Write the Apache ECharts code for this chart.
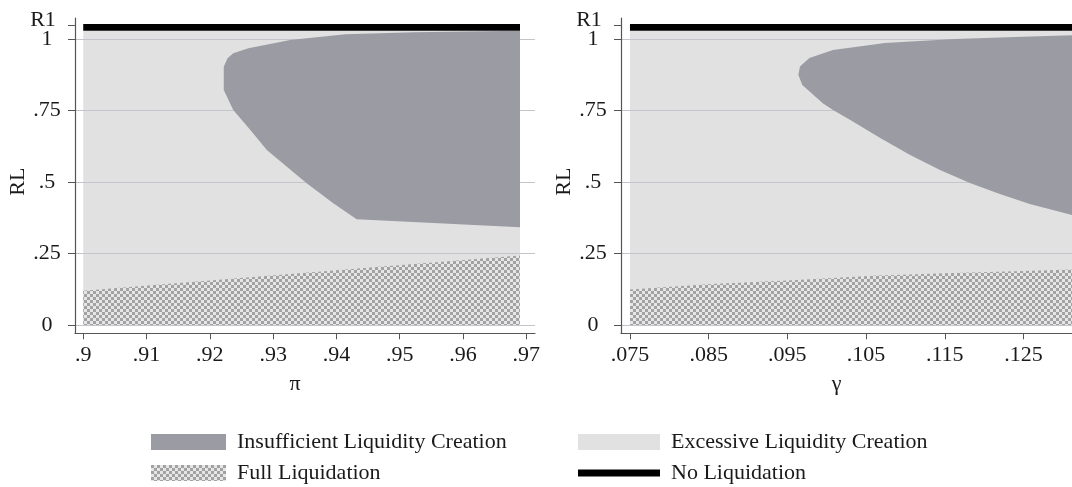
<!DOCTYPE html>
<html>
<head>
<meta charset="utf-8">
<script src="https://cdn.jsdelivr.net/npm/echarts@6/dist/echarts.min.js"></script>
<style>html,body{margin:0;padding:0;background:#fff}#c{width:1072px;height:487px}</style>
</head>
<body>
<div id="c"></div>
<script>
// ---------- data ----------
const yTickValues = [0, 0.25, 0.5, 0.75, 1];
const yTickLabels = ['0', '.25', '.5', '.75', '1'];
const r1Value = 1.049;
const r1Label = 'R1';
const piTickValues = [0.90, 0.91, 0.92, 0.93, 0.94, 0.95, 0.96, 0.97];
const piTickLabels = ['.9', '.91', '.92', '.93', '.94', '.95', '.96', '.97'];
const gammaTickValues = [0.075, 0.085, 0.095, 0.105, 0.115, 0.125, 0.135];
const gammaTickLabels = ['.075', '.085', '.095', '.105', '.115', '.125', '.135'];

const piRange = [0.9, 0.969];
const gammaRange = [0.075, 0.1312];
const excessTop = 1.030;
const noLiqBand = [1.030, 1.0535];

const piInsuffUpper = [[0.9222, 0.8225], [0.9222, 0.904], [0.9228, 0.9335], [0.9237, 0.951], [0.9261, 0.9685], [0.9327, 0.9975], [0.9414, 1.0175], [0.9523, 1.0245], [0.969, 1.030]];
const piInsuffLower = [[0.9222, 0.8225], [0.9237, 0.7525], [0.9264, 0.6825], [0.9290, 0.6125], [0.9353, 0.496], [0.9395, 0.426], [0.9432, 0.370], [0.969, 0.342]];
const piFullTop = [[0.9, 0.12], [0.94, 0.192], [0.969, 0.243]];

const gammaInsuffUpper = [[0.0964, 0.875], [0.0966, 0.905], [0.0978, 0.9345], [0.1008, 0.9625], [0.1074, 0.987], [0.1162, 1.001], [0.1249, 1.009], [0.1312, 1.014]];
const gammaInsuffLower = [[0.0964, 0.875], [0.0969, 0.84], [0.0995, 0.776], [0.1008, 0.7525], [0.1030, 0.7175], [0.1068, 0.6545], [0.1106, 0.595], [0.1144, 0.5425], [0.1182, 0.497], [0.1220, 0.4585], [0.1258, 0.4235], [0.1312, 0.385]];
const gammaFullTop = [[0.075, 0.124], [0.0854, 0.1435], [0.0956, 0.157], [0.1059, 0.1725], [0.1161, 0.182], [0.1262, 0.190], [0.1312, 0.194]];

const names = ['Insufficient Liquidity Creation', 'Excessive Liquidity Creation', 'Full Liquidation', 'No Liquidation'];

// ---------- styles ----------
const FONT = 'Liberation Serif';
const FS = 22;
const TXT = '#1a1a1a';
const C_DARK = '#9b9ca3';
const C_LIGHT = '#e1e1e2';
const C_BLACK = '#000000';
const Y_MIN = -0.029, Y_MAX = 1.0745;

const pc = document.createElement('canvas');
pc.width = 6; pc.height = 6;
const g = pc.getContext('2d');
g.fillStyle = '#e6e6e6'; g.fillRect(0, 0, 6, 6);
g.fillStyle = '#a2a2a2'; g.fillRect(0, 0, 3, 3); g.fillRect(3, 3, 3, 3);
const C_PATTERN = { image: pc, repeat: 'repeat' };

// ---------- polygons ----------
function rect(x0, x1, y0, y1) { return [[x0, y0], [x0, y1], [x1, y1], [x1, y0]]; }
function region(upper, lower) { return upper.concat(lower.slice().reverse()); }
function underCurve(top) { return [[top[0][0], 0]].concat(top, [[top[top.length - 1][0], 0]]); }

function polySeries(name, idx, pts, color, z) {
  return {
    type: 'custom', name: name, xAxisIndex: idx, yAxisIndex: idx, z: z,
    silent: true, animation: false,
    itemStyle: { color: color },
    data: [pts[0]],
    renderItem: function (params, api) {
      return {
        type: 'polygon',
        shape: { points: pts.map(function (p) { return api.coord(p); }) },
        style: { fill: color }
      };
    }
  };
}

function panelSeries(idx, range, upper, lower, fullTop) {
  return [
    polySeries(names[1], idx, rect(range[0], range[1], 0, excessTop), C_LIGHT, 1),
    polySeries(names[0], idx, region(upper, lower), C_DARK, 3),
    polySeries(names[2], idx, underCurve(fullTop), C_PATTERN, 3),
    polySeries(names[3], idx, rect(range[0], range[1], noLiqBand[0], noLiqBand[1]), C_BLACK, 3)
  ];
}

function yAxisOpt(idx) {
  return {
    type: 'value', gridIndex: idx, min: Y_MIN, max: Y_MAX, z: 2, position: 'left',
    name: 'RL', nameLocation: 'middle', nameGap: 37,
    nameTextStyle: { fontFamily: FONT, fontSize: FS, color: TXT, padding: [0, 12, 0, 0] },
    axisLine: { show: true, lineStyle: { color: '#555', width: 1.2 } },
    axisTick: { show: true, length: 7, customValues: yTickValues, lineStyle: { color: '#555' } },
    axisLabel: {
      customValues: yTickValues, margin: 28, align: 'center',
      fontFamily: FONT, fontSize: FS, color: TXT,
      formatter: function (v) {
        const i = yTickValues.findIndex(function (t) { return Math.abs(t - v) < 1e-6; });
        return i >= 0 ? yTickLabels[i] : '';
      }
    },
    splitLine: { show: true, lineStyle: { color: '#c4c5cb', width: 1 } }
  };
}

// second left axis on each grid that only carries the R1 tick
function r1AxisOpt(idx) {
  return {
    type: 'value', gridIndex: idx, min: Y_MIN, max: Y_MAX, z: 2, position: 'left', offset: 0,
    axisLine: { show: false },
    axisTick: { show: true, length: 7, customValues: [r1Value], lineStyle: { color: '#555' } },
    axisLabel: {
      customValues: [r1Value], margin: 28, align: 'center', verticalAlign: 'bottom', lineHeight: 10,
      fontFamily: FONT, fontSize: FS, color: TXT, padding: [0, 8, 0, 0],
      formatter: function () { return r1Label; }
    },
    splitLine: { show: false }
  };
}

function xAxisOpt(idx, min, max, vals, labels, title) {
  return {
    type: 'value', gridIndex: idx, min: min, max: max,
    name: title, nameLocation: 'middle', nameGap: 40,
    nameTextStyle: { fontFamily: FONT, fontSize: FS, color: TXT, padding: [0, 20, 0, 0] },
    axisLine: { show: true, onZero: false, lineStyle: { color: '#555', width: 1.2 } },
    axisTick: { show: true, length: 6, customValues: vals, lineStyle: { color: '#555' } },
    axisLabel: {
      customValues: vals, margin: 11, fontFamily: FONT, fontSize: FS, color: TXT,
      formatter: function (v) {
        const i = vals.findIndex(function (t) { return Math.abs(t - v) < 1e-7; });
        return i >= 0 ? labels[i] : '';
      }
    },
    splitLine: { show: false }
  };
}

const legendText = { fontFamily: FONT, fontSize: FS, color: TXT, padding: [0, 0, 0, 6] };

const chart = echarts.init(document.getElementById('c'), null, { renderer: 'canvas' });
chart.setOption({
  animation: false,
  backgroundColor: '#ffffff',
  grid: [
    { left: 75, top: 18, width: 460, height: 315.3 },
    { left: 621, top: 18, width: 451, height: 315.3 }
  ],
  xAxis: [
    xAxisOpt(0, 0.8987, 0.97137, piTickValues, piTickLabels, 'π'),
    xAxisOpt(1, 0.07386, 0.13117, gammaTickValues, gammaTickLabels, 'γ')
  ],
  yAxis: [yAxisOpt(0), yAxisOpt(1), r1AxisOpt(0), r1AxisOpt(1)],
  legend: [
    {
      orient: 'vertical', left: 151, top: 431, bottom: 0, itemGap: 9, itemWidth: 75, itemHeight: 16,
      selectedMode: false, padding: 0,
      textStyle: legendText,
      data: [{ name: names[0], icon: 'rect' }, { name: names[2], icon: 'rect' }]
    },
    {
      orient: 'vertical', left: 578, top: 431, bottom: 0, itemGap: 9, itemWidth: 82, itemHeight: 16,
      selectedMode: false, padding: 0,
      textStyle: legendText,
      data: [{ name: names[1], icon: 'rect' }, { name: names[3], icon: 'path://M0,0H82V7H0Z' }]
    }
  ],
  series: [].concat(
    panelSeries(0, piRange, piInsuffUpper, piInsuffLower, piFullTop),
    panelSeries(1, gammaRange, gammaInsuffUpper, gammaInsuffLower, gammaFullTop)
  )
});
</script>
</body>
</html>
